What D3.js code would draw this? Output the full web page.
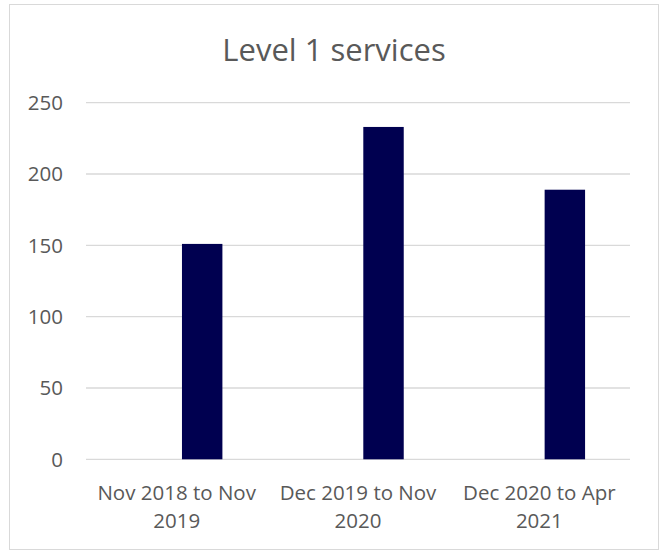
<!DOCTYPE html>
<html>
<head>
<meta charset="utf-8">
<script src="https://cdn.jsdelivr.net/npm/d3@7"></script>
<style>
  html, body { margin: 0; padding: 0; background: #fff; }
  svg { display: block; font-family: "Open Sans", "Liberation Sans", sans-serif; }
</style>
</head>
<body>
<svg id="chart" width="661" height="551"></svg>
<script>
// Chart data
const title = "Level 1 services";
const categories = [
  ["Nov 2018 to Nov", "2019"],
  ["Dec 2019 to Nov", "2020"],
  ["Dec 2020 to Apr", "2021"]
];
const values = [151, 233, 189];
const yTicks = [0, 50, 100, 150, 200, 250];

const svg = d3.select("#chart");
const plot = { left: 86, right: 630, top: 102.7, bottom: 459.3 };

// Outer chart border
svg.append("rect")
  .attr("x", 9.5).attr("y", 4.5)
  .attr("width", 649).attr("height", 545)
  .attr("fill", "#fff")
  .attr("stroke", "#d9d9d9").attr("stroke-width", 1);

// Title
svg.append("text")
  .attr("x", 334).attr("y", 61)
  .attr("text-anchor", "middle")
  .attr("font-size", 31)
  .attr("fill", "#595959")
  .text(title);

const x = d3.scaleBand()
  .domain(d3.range(categories.length))
  .range([plot.left, plot.right])
  .paddingInner(0).paddingOuter(0);

const y = d3.scaleLinear()
  .domain([0, 250])
  .range([plot.bottom, plot.top]);

// Gridlines
svg.append("g")
  .selectAll("line")
  .data(yTicks)
  .join("line")
  .attr("x1", plot.left).attr("x2", plot.right)
  .attr("y1", d => y(d)).attr("y2", d => y(d))
  .attr("stroke", "#d9d9d9").attr("stroke-width", 1.3);

// Y tick labels
svg.append("g")
  .selectAll("text")
  .data(yTicks)
  .join("text")
  .attr("x", 63).attr("y", d => y(d))
  .attr("dy", "0.36em")
  .attr("text-anchor", "end")
  .attr("font-size", 20.5)
  .attr("fill", "#595959")
  .text(d => d);

// Bars (series sits right of the category centre)
const bw = x.bandwidth();
const barW = bw * 0.223;
svg.append("g")
  .selectAll("rect")
  .data(values)
  .join("rect")
  .attr("x", (d, i) => x(i) + bw / 2 + 5.3)
  .attr("y", d => y(d))
  .attr("width", barW)
  .attr("height", d => y(0) - y(d))
  .attr("fill", "#000050");

// Category labels (two lines)
const lab = svg.append("g")
  .selectAll("text")
  .data(categories)
  .join("text")
  .attr("text-anchor", "middle")
  .attr("font-size", 20.5)
  .attr("fill", "#595959")
  .attr("transform", (d, i) => `translate(${x(i) + bw / 2},0)`);
lab.selectAll("tspan")
  .data(d => d)
  .join("tspan")
  .attr("x", 0)
  .attr("y", (d, j) => 500 + j * 28)
  .text(d => d);
</script>
</body>
</html>
